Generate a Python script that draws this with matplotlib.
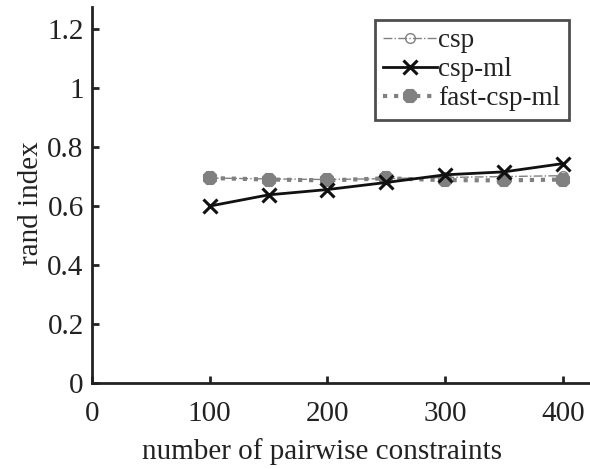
import matplotlib.pyplot as plt

plt.rcParams['font.family'] = ['Liberation Serif', 'DejaVu Serif']

constraints = [100, 150, 200, 250, 300, 350, 400]
csp = [0.695, 0.692, 0.690, 0.693, 0.697, 0.700, 0.703]
csp_ml = [0.600, 0.638, 0.656, 0.680, 0.706, 0.716, 0.744]
fast_csp_ml = [0.695, 0.690, 0.687, 0.694, 0.688, 0.687, 0.690]

fig = plt.figure(figsize=(5.9, 4.69), dpi=100)
ax = fig.add_axes([92 / 590, 86 / 469, 498 / 590, 376 / 469])

ax.plot(constraints, csp, color='#808080', linestyle='-.', linewidth=1.0,
        marker='o', markersize=7, markerfacecolor='none', markeredgewidth=1.0,
        label='csp', zorder=3)
ax.plot(constraints, csp_ml, color='#111111', linestyle='-', linewidth=2.0,
        marker='x', markersize=10, markeredgewidth=2.2, label='csp-ml', zorder=4)
ax.plot(constraints, fast_csp_ml, color='#808080', linestyle=':', linewidth=3.0,
        marker='8', markersize=10, markeredgewidth=1.5, label='fast-csp-ml', zorder=2)

ax.set_xlim(0, 423)
ax.set_ylim(0, 1.275)
ax.set_xticks([0, 100, 200, 300, 400])
ax.set_yticks([0, 0.2, 0.4, 0.6, 0.8, 1.0, 1.2])
ax.set_yticklabels(['0', '0.2', '0.4', '0.6', '0.8', '1', '1.2'])
ax.tick_params(direction='in', length=5, width=2, labelsize=21, pad=6,
               colors='#222222', labelcolor='#222222')
ax.tick_params(axis='x', pad=13)

for side in ['top', 'right']:
    ax.spines[side].set_visible(False)
for side in ['left', 'bottom']:
    ax.spines[side].set_linewidth(2)
    ax.spines[side].set_color('#222222')

ax.set_xlabel('number of pairwise constraints', fontsize=21, color='#222222')
ax.set_ylabel('rand index', fontsize=21, color='#222222')
ax.xaxis.set_label_coords(0.462, -0.146)
ax.yaxis.set_label_coords(-0.096, 0.479)

leg = ax.legend(loc='upper right', bbox_to_anchor=(0.957, 0.965), fontsize=19.5,
                frameon=True, fancybox=False, handlelength=2.0, handletextpad=0.05,
                borderpad=0.3, labelspacing=0.15, borderaxespad=0)
leg.get_frame().set_edgecolor('#222222')
leg.get_frame().set_linewidth(2)
for txt in leg.get_texts():
    txt.set_color('#222222')

fig.savefig('out.png', dpi=100)
